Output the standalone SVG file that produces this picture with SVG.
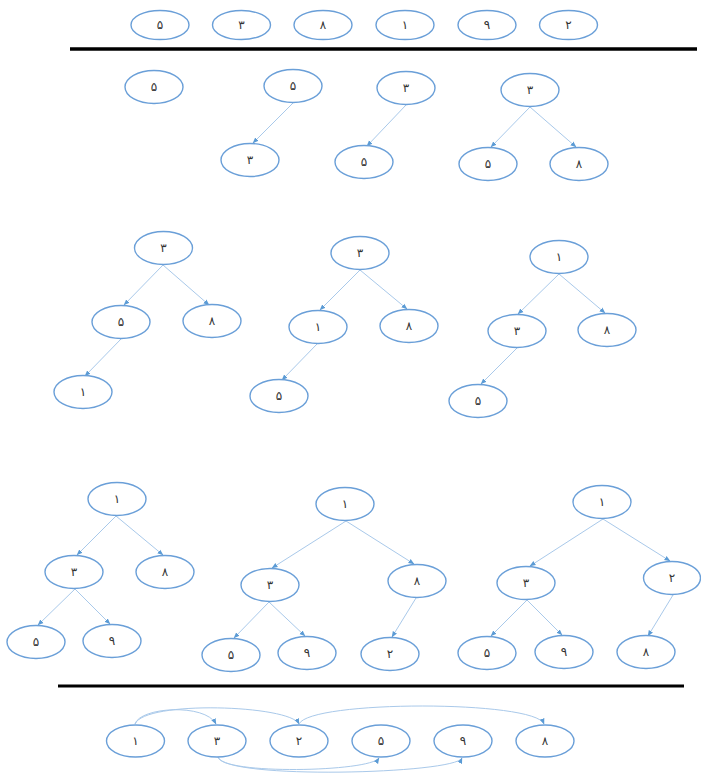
<svg xmlns="http://www.w3.org/2000/svg" width="701" height="774" viewBox="0 0 701 774">
<style>
.n ellipse{fill:#fff;stroke:#6a9fd8;stroke-width:1.4}
.n text{font-family:"DejaVu Sans","Noto Sans",sans-serif;font-size:12px;fill:#333;text-anchor:middle;dominant-baseline:central}
.e line,.e path{stroke:#a9c9ea;stroke-width:1;fill:none;marker-end:url(#ah)}
.rule{stroke:#000;stroke-width:3.5}
</style>
<defs>
<marker id="ah" markerUnits="userSpaceOnUse" markerWidth="6" markerHeight="6" viewBox="0 0 6 6" refX="5.5" refY="3" orient="auto">
<path d="M0,0.6 L6,3 L0,5.4 z" fill="#5b9bd5"/>
</marker>
</defs>
<rect width="701" height="774" fill="#fff"/>
<line class="rule" x1="70" y1="49" x2="697" y2="49"/>
<line class="rule" x1="58" y1="686" x2="684" y2="686" style="stroke-width:3"/>

<g id="connectors" class="e">
<line x1="293" y1="103" x2="253" y2="143"/>
<line x1="406" y1="105" x2="367" y2="146"/>
<line x1="530" y1="107" x2="491" y2="147"/>
<line x1="530" y1="107" x2="576" y2="147"/>

<line x1="163" y1="265" x2="124" y2="305"/>
<line x1="163" y1="265" x2="209" y2="305"/>
<line x1="121" y1="339" x2="85" y2="376"/>

<line x1="360" y1="270" x2="320" y2="310"/>
<line x1="360" y1="270" x2="407" y2="309"/>
<line x1="317" y1="344" x2="282" y2="380"/>

<line x1="559" y1="274" x2="518" y2="314"/>
<line x1="559" y1="274" x2="605" y2="313"/>
<line x1="517" y1="348" x2="481" y2="384"/>

<line x1="116" y1="516" x2="77" y2="555"/>
<line x1="116" y1="516" x2="163" y2="555"/>
<line x1="75" y1="589" x2="38" y2="625"/>
<line x1="75" y1="589" x2="110" y2="624"/>

<line x1="346" y1="521" x2="272" y2="568"/>
<line x1="346" y1="521" x2="414" y2="564"/>
<line x1="269" y1="602" x2="234" y2="638"/>
<line x1="269" y1="602" x2="305" y2="636"/>
<line x1="416" y1="598" x2="392" y2="637"/>

<line x1="603" y1="519" x2="530" y2="566"/>
<line x1="603" y1="519" x2="670" y2="561"/>
<line x1="527" y1="600" x2="491" y2="636"/>
<line x1="527" y1="600" x2="562" y2="635"/>
<line x1="673" y1="595" x2="648" y2="636"/>

<path d="M135,724 C140,707 205,703 216,724"/>
<path d="M135,724 C145,700 290,705 299,724"/>
<path d="M299,724 C310,700 535,700 544,724"/>
<path d="M218,757 C222,775 370,772 379,758"/>
<path d="M218,757 C225,780 455,774 462,758"/>
</g>

<g id="top-5" class="n"><ellipse cx="160" cy="25" rx="29" ry="14.5"/><text x="160" y="25">۵</text></g>
<g id="top-3" class="n"><ellipse cx="241.5" cy="25" rx="29" ry="14.5"/><text x="241.5" y="25">۳</text></g>
<g id="top-8" class="n"><ellipse cx="323" cy="25" rx="29" ry="14.5"/><text x="323" y="25">۸</text></g>
<g id="top-1" class="n"><ellipse cx="405" cy="25" rx="29" ry="14.5"/><text x="405" y="25">۱</text></g>
<g id="top-9" class="n"><ellipse cx="487" cy="25" rx="29" ry="14.5"/><text x="487" y="25">۹</text></g>
<g id="top-2" class="n"><ellipse cx="568.5" cy="25" rx="29" ry="14.5"/><text x="568.5" y="25">۲</text></g>

<g id="s1-5" class="n"><ellipse cx="154" cy="87" rx="29" ry="16.5"/><text x="154" y="87">۵</text></g>

<g id="s2-5" class="n"><ellipse cx="293" cy="86" rx="29" ry="16.5"/><text x="293" y="86">۵</text></g>
<g id="s2-3" class="n"><ellipse cx="250" cy="160" rx="29" ry="16.5"/><text x="250" y="160">۳</text></g>

<g id="s3-3" class="n"><ellipse cx="406" cy="88" rx="29" ry="16.5"/><text x="406" y="88">۳</text></g>
<g id="s3-5" class="n"><ellipse cx="364" cy="162" rx="29" ry="16.5"/><text x="364" y="162">۵</text></g>

<g id="s4-3" class="n"><ellipse cx="530" cy="90" rx="29" ry="16.5"/><text x="530" y="90">۳</text></g>
<g id="s4-5" class="n"><ellipse cx="488" cy="164" rx="29" ry="16.5"/><text x="488" y="164">۵</text></g>
<g id="s4-8" class="n"><ellipse cx="579" cy="164" rx="29" ry="16.5"/><text x="579" y="164">۸</text></g>

<g id="s5-3" class="n"><ellipse cx="163.5" cy="248" rx="29" ry="16.5"/><text x="163.5" y="248">۳</text></g>
<g id="s5-5" class="n"><ellipse cx="121" cy="322" rx="29" ry="16.5"/><text x="121" y="322">۵</text></g>
<g id="s5-8" class="n"><ellipse cx="212" cy="321" rx="29" ry="16.5"/><text x="212" y="321">۸</text></g>
<g id="s5-1" class="n"><ellipse cx="83" cy="392" rx="29" ry="16.5"/><text x="83" y="392">۱</text></g>

<g id="s6-3" class="n"><ellipse cx="360" cy="253" rx="29" ry="16.5"/><text x="360" y="253">۳</text></g>
<g id="s6-1" class="n"><ellipse cx="318" cy="327" rx="29" ry="16.5"/><text x="318" y="327">۱</text></g>
<g id="s6-8" class="n"><ellipse cx="409" cy="326" rx="29" ry="16.5"/><text x="409" y="326">۸</text></g>
<g id="s6-5" class="n"><ellipse cx="279" cy="396" rx="29" ry="16.5"/><text x="279" y="396">۵</text></g>

<g id="s7-1" class="n"><ellipse cx="559" cy="257" rx="29" ry="16.5"/><text x="559" y="257">۱</text></g>
<g id="s7-3" class="n"><ellipse cx="517" cy="331" rx="29" ry="16.5"/><text x="517" y="331">۳</text></g>
<g id="s7-8" class="n"><ellipse cx="607" cy="330" rx="29" ry="16.5"/><text x="607" y="330">۸</text></g>
<g id="s7-5" class="n"><ellipse cx="478" cy="401" rx="29" ry="16.5"/><text x="478" y="401">۵</text></g>

<g id="s8-1" class="n"><ellipse cx="117" cy="499" rx="29" ry="16.5"/><text x="117" y="499">۱</text></g>
<g id="s8-3" class="n"><ellipse cx="74" cy="572" rx="29" ry="16.5"/><text x="74" y="572">۳</text></g>
<g id="s8-8" class="n"><ellipse cx="165" cy="572" rx="29" ry="16.5"/><text x="165" y="572">۸</text></g>
<g id="s8-5" class="n"><ellipse cx="36" cy="642" rx="29" ry="16.5"/><text x="36" y="642">۵</text></g>
<g id="s8-9" class="n"><ellipse cx="112" cy="641" rx="29" ry="16.5"/><text x="112" y="641">۹</text></g>

<g id="s9-1" class="n"><ellipse cx="345" cy="504" rx="29" ry="16.5"/><text x="345" y="504">۱</text></g>
<g id="s9-3" class="n"><ellipse cx="270" cy="585" rx="29" ry="16.5"/><text x="270" y="585">۳</text></g>
<g id="s9-8" class="n"><ellipse cx="417" cy="581" rx="29" ry="16.5"/><text x="417" y="581">۸</text></g>
<g id="s9-5" class="n"><ellipse cx="231" cy="655" rx="29" ry="16.5"/><text x="231" y="655">۵</text></g>
<g id="s9-9" class="n"><ellipse cx="307" cy="653" rx="29" ry="16.5"/><text x="307" y="653">۹</text></g>
<g id="s9-2" class="n"><ellipse cx="390" cy="654" rx="29" ry="16.5"/><text x="390" y="654">۲</text></g>

<g id="s10-1" class="n"><ellipse cx="602" cy="502" rx="29" ry="16.5"/><text x="602" y="502">۱</text></g>
<g id="s10-3" class="n"><ellipse cx="526" cy="583" rx="29" ry="16.5"/><text x="526" y="583">۳</text></g>
<g id="s10-2" class="n"><ellipse cx="672" cy="578" rx="28.5" ry="16.5"/><text x="672" y="578">۲</text></g>
<g id="s10-5" class="n"><ellipse cx="487" cy="653" rx="29" ry="16.5"/><text x="487" y="653">۵</text></g>
<g id="s10-9" class="n"><ellipse cx="564" cy="652" rx="29" ry="16.5"/><text x="564" y="652">۹</text></g>
<g id="s10-8" class="n"><ellipse cx="646" cy="652" rx="29" ry="16.5"/><text x="646" y="652">۸</text></g>

<g id="arr-1" class="n"><ellipse cx="135.5" cy="741" rx="29" ry="16"/><text x="135.5" y="741">۱</text></g>
<g id="arr-3" class="n"><ellipse cx="217" cy="741" rx="29" ry="16"/><text x="217" y="741">۳</text></g>
<g id="arr-2" class="n"><ellipse cx="299" cy="741" rx="29" ry="16"/><text x="299" y="741">۲</text></g>
<g id="arr-5" class="n"><ellipse cx="381" cy="741" rx="29" ry="16"/><text x="381" y="741">۵</text></g>
<g id="arr-9" class="n"><ellipse cx="463" cy="741" rx="29" ry="16"/><text x="463" y="741">۹</text></g>
<g id="arr-8" class="n"><ellipse cx="545" cy="741" rx="29" ry="16"/><text x="545" y="741">۸</text></g>
</svg>
